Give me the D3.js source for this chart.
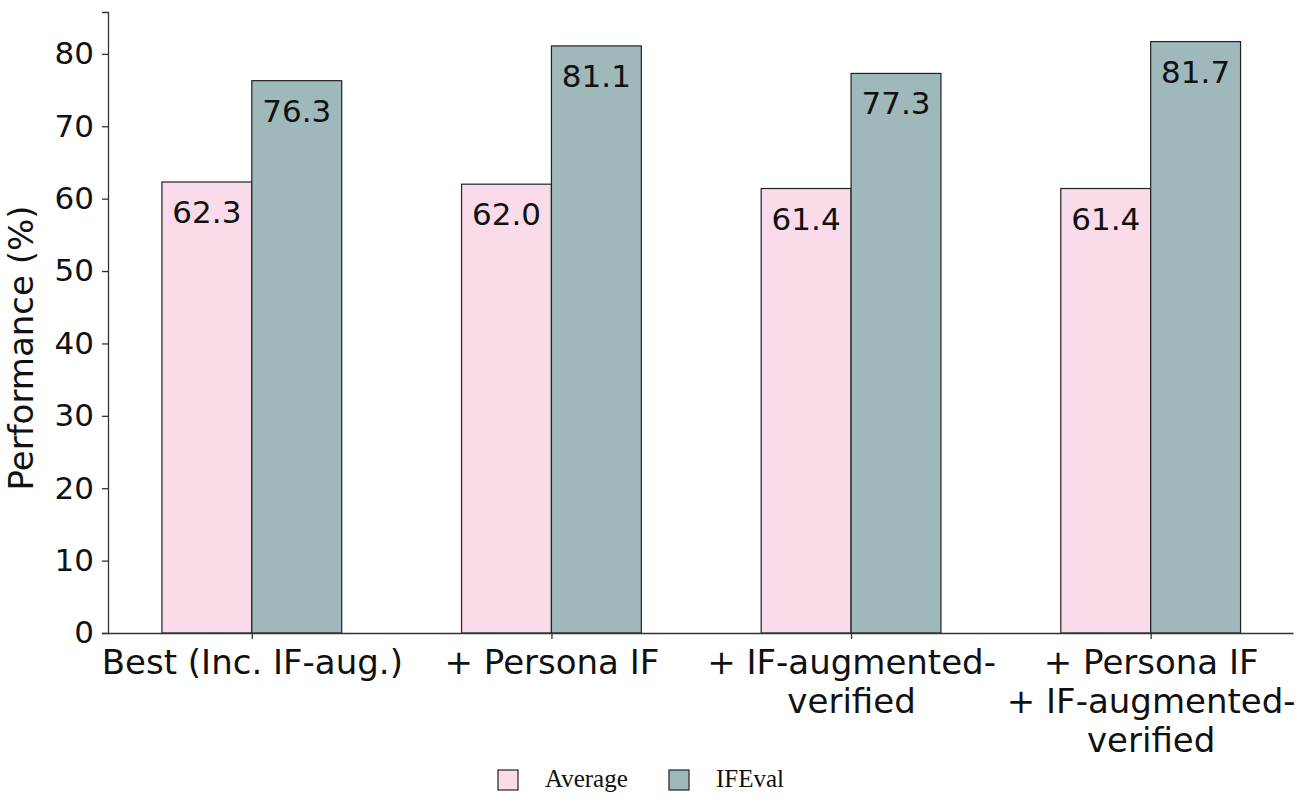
<!DOCTYPE html>
<html>
<head>
<meta charset="utf-8">
<script src="https://cdn.jsdelivr.net/npm/d3@7"></script>
<style>
  body { margin: 0; background: #fff; }
  svg { display: block; }
</style>
</head>
<body>
<div id="chart"></div>
<script>
const categories = [
  ["Best (Inc. IF-aug.)"],
  ["+ Persona IF"],
  ["+ IF-augmented-", "verified"],
  ["+ Persona IF", "+ IF-augmented-", "verified"]
]
const seriesNames = ["Average", "IFEval"]
const averageValues = [62.3, 62.0, 61.4, 61.4]
const ifevalValues = [76.3, 81.1, 77.3, 81.7]
const yTicks = [0, 10, 20, 30, 40, 50, 60, 70, 80]
const colors = ["#f9dbe9", "#9fb8b9"]

const width = 1306
const height = 808
const marginLeft = 108
const marginRight = 13
const marginTop = 12
const marginBottom = 175

const barWidth = 0.3
const series = [averageValues, ifevalValues]

const xScale = d3
  .scaleLinear()
  .domain([-0.48, categories.length - 1 + 0.475])
  .range([marginLeft, width - marginRight])

const yScale = d3
  .scaleLinear()
  .domain([0, d3.max(ifevalValues) * 1.05])
  .range([height - marginBottom, marginTop])

const svg = d3
  .create("svg")
  .attr("viewBox", [0, 0, width, height])
  .attr("width", width)
  .attr("height", height)
  .style("font-family", "'DejaVu Sans', sans-serif")

// bars
series.forEach((vals, s) => {
  const g = svg.append("g").attr("class", "series-" + s)
  g.selectAll("rect")
    .data(vals)
    .join("rect")
    .attr("x", (d, i) => xScale(i + (s - 1) * barWidth))
    .attr("y", d => yScale(d))
    .attr("width", xScale(barWidth) - xScale(0))
    .attr("height", d => yScale(0) - yScale(d))
    .attr("fill", colors[s])
    .attr("stroke", "#222")
    .attr("stroke-width", 1.2)

  g.selectAll("text")
    .data(vals)
    .join("text")
    .attr("x", (d, i) => xScale(i + (s - 0.5) * barWidth))
    .attr("y", d => yScale(d) + 41)
    .attr("text-anchor", "middle")
    .attr("font-size", 31)
    .attr("fill", "#111")
    .text(d => d.toFixed(1))
})

// y axis
const yAxis = d3.axisLeft(yScale).tickValues(yTicks).tickSize(6).tickPadding(8)
const gy = svg
  .append("g")
  .attr("transform", `translate(${marginLeft},0)`)
  .call(yAxis)
gy.select(".domain").attr("stroke", "#333").attr("stroke-width", 1.3)
gy.selectAll(".tick line").attr("stroke", "#333").attr("stroke-width", 1.3)
gy.selectAll(".tick text")
  .attr("font-size", 31)
  .attr("font-family", "'DejaVu Sans', sans-serif")
  .attr("fill", "#111")

// x axis
const xAxis = d3
  .axisBottom(xScale)
  .tickValues(d3.range(categories.length))
  .tickFormat("")
  .tickSize(6)
  .tickSizeOuter(0)
const gx = svg
  .append("g")
  .attr("transform", `translate(0,${yScale(0)})`)
  .call(xAxis)
gx.select(".domain").attr("stroke", "#333").attr("stroke-width", 1.3)
gx.selectAll(".tick line").attr("stroke", "#333").attr("stroke-width", 1.3)
gx.selectAll(".tick")
  .append("text")
  .attr("text-anchor", "middle")
  .attr("font-size", 34)
  .attr("font-family", "'DejaVu Sans', sans-serif")
  .attr("fill", "#111")
  .selectAll("tspan")
  .data((d, i) => categories[i])
  .join("tspan")
  .attr("x", 0)
  .attr("y", (d, j) => 41 + j * 39)
  .text(d => d)

// y label
svg
  .append("text")
  .attr("transform", "translate(33,348) rotate(-90)")
  .attr("text-anchor", "middle")
  .attr("font-size", 34)
  .attr("fill", "#111")
  .text("Performance (%)")

// legend
const legend = svg.append("g").attr("transform", "translate(498,770)")
const legendX = [0, 171]
seriesNames.forEach((name, i) => {
  legend
    .append("rect")
    .attr("x", legendX[i])
    .attr("y", 0)
    .attr("width", 20)
    .attr("height", 20)
    .attr("fill", colors[i])
    .attr("stroke", "#222")
    .attr("stroke-width", 1.2)
  legend
    .append("text")
    .attr("x", legendX[i] + 47)
    .attr("y", 17)
    .attr("font-family", "'Liberation Serif', 'DejaVu Serif', serif")
    .attr("font-size", 25)
    .attr("fill", "#111")
    .text(name)
})

document.querySelector("#chart").append(svg.node())
</script>
</body>
</html>
